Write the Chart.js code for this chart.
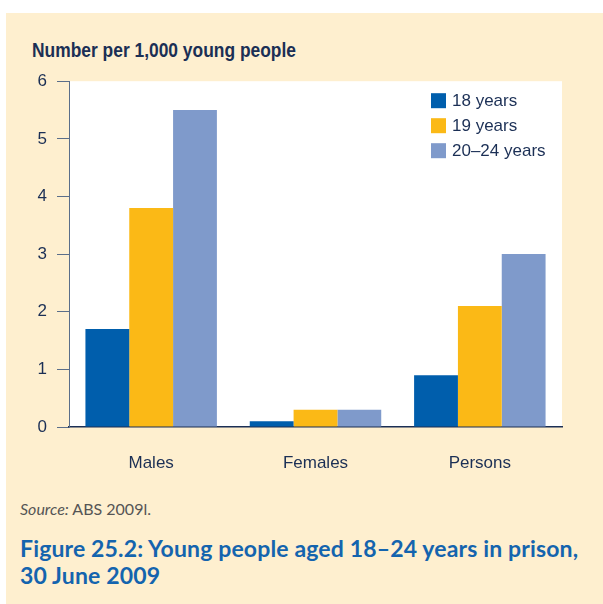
<!DOCTYPE html>
<html>
<head>
<meta charset="utf-8">
<script src="https://cdn.jsdelivr.net/npm/chart.js@4"></script>
<style>
  body { margin: 0; background: #fff; width: 603px; height: 604px; overflow: hidden; position: relative; }
  #panel { position: absolute; left: 6px; top: 13px; width: 597px; height: 591px; background: #FEEFCF; }
  #ytitle { position: absolute; left: 32px; top: 39px; font: bold 20px "Liberation Sans", sans-serif; color: #1B2F55; transform: scaleX(0.87); transform-origin: left top; white-space: nowrap; }
  #wrap { position: absolute; left: 0; top: 61px; width: 603px; height: 419px; }
  #source { position: absolute; left: 20px; top: 499px; font: 16px Lato, sans-serif; color: #555; }
  #caption { position: absolute; left: 20px; top: 535px; font: bold 23px Lato, sans-serif; color: #1464AE; line-height: 27px; white-space: nowrap; letter-spacing: 0.15px; }
</style>
</head>
<body>
<div id="panel"></div>
<div id="ytitle">Number per 1,000 young people</div>
<div id="wrap"><canvas id="chart"></canvas></div>
<div id="source"><i>Source:</i> ABS 2009l.</div>
<div id="caption">Figure 25.2: Young people aged 18–24 years in prison,<br>30 June 2009</div>
<script>
// chart values
const categories = ['Males', 'Females', 'Persons'];
const age18 = [1.7, 0.1, 0.9];
const age19 = [3.8, 0.3, 2.1];
const age2024 = [5.5, 0.3, 3.0];
const seriesLabels = ['18 years', '19 years', '20–24 years'];
const yTicks = [0, 1, 2, 3, 4, 5, 6];

const colors = ['#005EAC', '#FBB916', '#7F9ACB'];
const navy = '#1B2F55';
const axisGrey = '#5A6E8A';
const font = '"Liberation Sans", sans-serif';

// white plot background
const plotBg = {
  id: 'plotBg',
  beforeDraw(chart) {
    const a = chart.chartArea, ctx = chart.ctx;
    ctx.save();
    ctx.fillStyle = '#fff';
    ctx.fillRect(a.left, a.top, a.right - a.left, a.bottom - a.top);
    ctx.restore();
  }
};

// legend inside the plot, top right
const innerLegend = {
  id: 'innerLegend',
  afterDraw(chart) {
    const ctx = chart.ctx;
    const a = chart.chartArea;
    const x = 431, y0 = a.top + 12;
    ctx.save();
    ctx.font = '17px ' + font;
    ctx.textBaseline = 'middle';
    chart.data.datasets.forEach((ds, i) => {
      const y = y0 + i * 25;
      ctx.fillStyle = ds.backgroundColor;
      ctx.fillRect(x, y, 15, 15);
      ctx.fillStyle = navy;
      ctx.fillText(ds.label, x + 21, y + 8);
    });
    ctx.restore();
  }
};

new Chart(document.getElementById('chart'), {
  type: 'bar',
  data: {
    labels: categories,
    datasets: [
      { label: seriesLabels[0], data: age18, backgroundColor: colors[0] },
      { label: seriesLabels[1], data: age19, backgroundColor: colors[1] },
      { label: seriesLabels[2], data: age2024, backgroundColor: colors[2] }
    ]
  },
  options: {
    responsive: true,
    maintainAspectRatio: false,
    animation: false,
    layout: { padding: { left: 20, right: 41, top: 2, bottom: 0 } },
    datasets: { bar: { categoryPercentage: 0.8, barPercentage: 1.0 } },
    plugins: {
      legend: { display: false },
      tooltip: { enabled: false }
    },
    scales: {
      x: {
        grid: { display: false, drawTicks: false },
        border: { display: true, color: navy, width: 1.5 },
        ticks: { color: navy, font: { family: font, size: 17 }, padding: 26 },
        afterFit(s) { s.height = 53; }
      },
      y: {
        min: 0, max: 6,
        afterBuildTicks(s) { s.ticks = yTicks.map(v => ({ value: v })); },
        grid: { drawOnChartArea: false, drawTicks: true, tickLength: 12, color: axisGrey },
        border: { display: true, color: axisGrey, width: 1 },
        ticks: { color: navy, font: { family: font, size: 17 }, padding: 10 },
        afterFit(s) { s.width = 49; }
      }
    }
  },
  plugins: [plotBg, innerLegend]
});
</script>
</body>
</html>
